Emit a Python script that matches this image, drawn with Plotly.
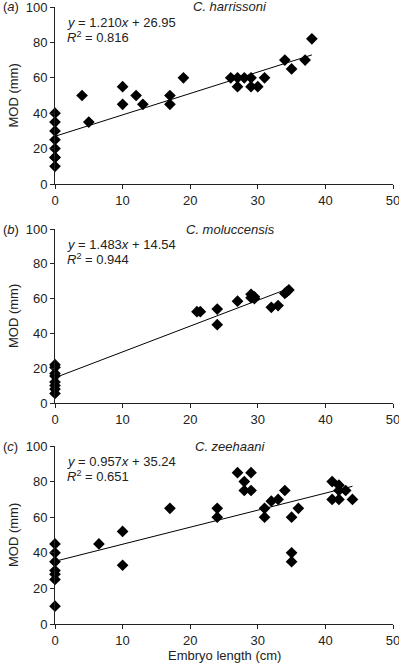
import numpy as np
import plotly.graph_objects as go

# ---- data ----
a_x = [0, 0, 0, 0, 0, 0, 0, 0, 4, 5, 10, 10, 12, 13, 17, 17, 19, 26, 27, 27, 28, 29, 29, 30, 31, 34, 35, 37, 38]
a_y = [10, 15, 15, 20, 25, 30, 35, 40, 50, 35, 55, 45, 50, 45, 50, 45, 60, 60, 60, 55, 60, 60, 55, 55, 60, 70, 65, 70, 82]

b_x = [0, 0, 0, 0, 0, 0, 0, 0, 21, 21.5, 24, 24, 27, 29, 29, 29.5, 29.5, 32, 33, 34, 34.3, 34.6]
b_y = [5.5, 8, 10, 12, 15.5, 17, 20.5, 22, 52.5, 52.5, 54, 45, 58.5, 62.5, 60.5, 61, 60, 55, 56, 63, 64, 65]

c_x = [0, 0, 0, 0, 0, 0, 0, 6.5, 10, 10, 17, 24, 24, 27, 28, 28, 29, 29, 31, 31, 32, 33, 34, 35, 35, 35, 36, 41, 41, 42, 42, 42, 43, 44]
c_y = [10, 25, 28, 30, 35, 40, 45, 45, 52, 33, 65, 65, 60, 85, 80, 75, 85, 75, 65, 60, 69, 70, 75, 60, 40, 35, 65, 80, 70, 78, 75, 70, 75, 70]

species = ["C. harrissoni", "C. moluccensis", "C. zeehaani"]
panel_letters = ["a", "b", "c"]
slopes = [1.210, 1.483, 0.957]
intercepts = [26.95, 14.54, 35.24]
r2 = ["0.816", "0.944", "0.651"]

x_ticks = [0, 10, 20, 30, 40, 50]
y_ticks = [0, 20, 40, 60, 80, 100]

# ---- layout geometry (pixels) ----
W, H = 399, 667
panels_px = [(7, 184), (229, 403), (446, 624)]  # top, bottom of plot areas

FONT = "Liberation Sans, Arial, sans-serif"
TXT = "#222"
fig = go.Figure()
layout = dict(
    width=W, height=H,
    margin=dict(l=55, r=6, t=0, b=0, autoexpand=False),
    paper_bgcolor="white", plot_bgcolor="white",
    showlegend=False,
    font=dict(family=FONT, size=13, color=TXT),
)

data = [(a_x, a_y), (b_x, b_y), (c_x, c_y)]
annotations = []
for i, ((xs, ys), (top, bot)) in enumerate(zip(data, panels_px)):
    n = i + 1
    xa = "x" if n == 1 else f"x{n}"
    ya = "y" if n == 1 else f"y{n}"
    fig.add_trace(go.Scatter(
        x=xs, y=ys, mode="markers", xaxis=xa, yaxis=ya,
        marker=dict(symbol="diamond", size=9, color="black"),
        cliponaxis=False, hoverinfo="skip",
    ))
    lx = np.array([0, max(xs)])
    fig.add_trace(go.Scatter(
        x=lx, y=slopes[i] * lx + intercepts[i], mode="lines", xaxis=xa, yaxis=ya,
        line=dict(color="black", width=1), cliponaxis=False, hoverinfo="skip",
    ))
    dom = [1 - bot / H, 1 - top / H]
    axkey_x = "xaxis" if n == 1 else f"xaxis{n}"
    axkey_y = "yaxis" if n == 1 else f"yaxis{n}"
    common = dict(
        showgrid=False, zeroline=False, showline=True, linecolor=TXT, linewidth=1,
        ticks="outside", ticklen=4, tickcolor=TXT, tickfont=dict(size=13, color=TXT),
        automargin=False, ticklabeloverflow="allow",
    )
    layout[axkey_x] = dict(domain=[0, 1], anchor=ya, range=[0, 50], tickvals=x_ticks, **common)
    layout[axkey_y] = dict(domain=dom, anchor=xa, range=[0, 100], tickvals=y_ticks, **common)
    ph = bot - top
    annotations += [
        dict(xref=f"{xa} domain", yref=f"{ya} domain", x=-54 / 338, y=1, xanchor="left", yanchor="middle",
             text=f"(<i>{panel_letters[i]}</i>)", showarrow=False, font=dict(size=13, color=TXT)),
        dict(xref=f"{xa} domain", yref=f"{ya} domain", x=(230 - 55) / 338, y=1, xanchor="center", yanchor="middle",
             text=f"<i>{species[i]}</i>", showarrow=False, font=dict(size=13, color=TXT)),
        dict(xref=f"{xa} domain", yref=f"{ya} domain", x=10 / 338, y=1 - 15 / ph, xanchor="left", yanchor="middle",
             text=f"<i>y</i> = {slopes[i]:.3f}<i>x</i> + {intercepts[i]:.2f}", showarrow=False,
             font=dict(size=13, color=TXT)),
        dict(xref=f"{xa} domain", yref=f"{ya} domain", x=10 / 338, y=1 - 30 / ph, xanchor="left", yanchor="middle",
             text=f"<i>R</i><sup>2</sup> = {r2[i]}", showarrow=False, font=dict(size=13, color=TXT)),
        dict(xref=f"{xa} domain", yref=f"{ya} domain", x=-42 / 338, y=0.5, xanchor="center", yanchor="middle",
             text="MOD (mm)", textangle=-90, showarrow=False, font=dict(size=13, color=TXT)),
    ]

annotations.append(dict(xref="x3 domain", yref="paper", x=0.5, y=1 - 655 / H, xanchor="center", yanchor="middle",
                        text="Embryo length (cm)", showarrow=False, font=dict(size=13, color=TXT)))
layout["annotations"] = annotations
fig.update_layout(**layout)
fig.write_html("out.html", config={"displayModeBar": False, "staticPlot": True},
               post_script="document.body.style.margin='0';document.body.style.overflow='hidden';")
